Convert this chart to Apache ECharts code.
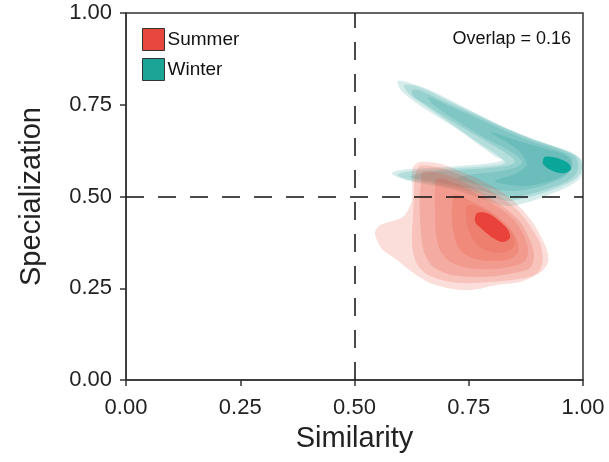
<!DOCTYPE html>
<html>
<head>
<meta charset="utf-8">
<script src="https://cdn.jsdelivr.net/npm/echarts@6/dist/echarts.min.js"></script>
<style>
html,body{margin:0;padding:0;background:#fff;}
#chart{width:609px;height:462px;}
</style>
</head>
<body>
<div id="chart"></div>
<script>
// Axis ticks
var xTicks = [0, 0.25, 0.5, 0.75, 1];
var yTicks = [0, 0.25, 0.5, 0.75, 1];
var refX = 0.5;
var refY = 0.5;
var overlapValue = 0.16;
var groups = ['Summer', 'Winter'];

// Density contour levels (outer -> core), vertices as [similarity, specialization]
var winterL1 = [[0.595,0.815],[0.621,0.809],[0.665,0.790],[0.709,0.763],[0.764,0.728],[0.818,0.694],[0.873,0.665],[0.928,0.640],[0.972,0.619],[0.998,0.599],[1.0,0.567],[0.989,0.545],[0.961,0.523],[0.917,0.501],[0.873,0.482],[0.840,0.474],[0.807,0.482],[0.764,0.501],[0.720,0.518],[0.665,0.531],[0.621,0.542],[0.589,0.556],[0.582,0.564],[0.600,0.572],[0.665,0.578],[0.731,0.583],[0.797,0.591],[0.823,0.599],[0.807,0.610],[0.770,0.643],[0.720,0.687],[0.665,0.730],[0.621,0.768],[0.600,0.792]];
var winterL2 = [[0.608,0.804],[0.643,0.798],[0.709,0.759],[0.770,0.723],[0.825,0.691],[0.880,0.662],[0.934,0.638],[0.982,0.616],[0.996,0.594],[0.996,0.567],[0.976,0.542],[0.932,0.518],[0.884,0.499],[0.842,0.488],[0.807,0.496],[0.764,0.512],[0.720,0.523],[0.665,0.537],[0.611,0.548],[0.593,0.559],[0.611,0.567],[0.665,0.572],[0.731,0.578],[0.797,0.583],[0.829,0.591],[0.818,0.608],[0.770,0.647],[0.713,0.697],[0.661,0.742],[0.621,0.778]];
var winterL3 = [[0.626,0.790],[0.643,0.789],[0.709,0.752],[0.775,0.716],[0.829,0.685],[0.884,0.657],[0.939,0.635],[0.980,0.613],[0.989,0.591],[0.987,0.567],[0.967,0.542],[0.928,0.523],[0.884,0.507],[0.845,0.499],[0.807,0.507],[0.764,0.520],[0.731,0.526],[0.665,0.542],[0.626,0.550],[0.621,0.556],[0.665,0.567],[0.731,0.572],[0.797,0.578],[0.840,0.586],[0.851,0.597],[0.829,0.620],[0.775,0.660],[0.709,0.708],[0.654,0.752],[0.630,0.772]];
var winterL4 = [[0.661,0.771],[0.709,0.746],[0.775,0.710],[0.829,0.679],[0.884,0.651],[0.939,0.629],[0.974,0.608],[0.976,0.583],[0.961,0.556],[0.923,0.534],[0.880,0.520],[0.845,0.515],[0.807,0.520],[0.764,0.534],[0.724,0.550],[0.764,0.561],[0.807,0.567],[0.851,0.578],[0.867,0.594],[0.845,0.620],[0.775,0.667],[0.709,0.718],[0.672,0.750]];
var winterL5 = [[0.797,0.676],[0.873,0.646],[0.923,0.629],[0.965,0.610],[0.976,0.583],[0.961,0.559],[0.923,0.540],[0.880,0.529],[0.840,0.531],[0.807,0.542],[0.851,0.561],[0.877,0.586],[0.862,0.621],[0.829,0.651]];
var winterCore = [[0.917,0.608],[0.943,0.605],[0.967,0.591],[0.974,0.575],[0.961,0.564],[0.939,0.567],[0.921,0.578],[0.912,0.591]];

var summerL1 = [[0.643,0.594],[0.681,0.591],[0.724,0.572],[0.775,0.545],[0.825,0.510],[0.862,0.471],[0.891,0.428],[0.912,0.381],[0.923,0.346],[0.923,0.319],[0.906,0.292],[0.862,0.267],[0.812,0.259],[0.753,0.245],[0.702,0.251],[0.665,0.264],[0.628,0.292],[0.593,0.327],[0.562,0.354],[0.549,0.381],[0.545,0.403],[0.556,0.422],[0.578,0.431],[0.606,0.444],[0.617,0.463],[0.626,0.490],[0.626,0.537],[0.628,0.580]];
var summerL2 = [[0.643,0.583],[0.687,0.578],[0.731,0.559],[0.775,0.531],[0.818,0.499],[0.856,0.463],[0.884,0.420],[0.906,0.373],[0.912,0.332],[0.906,0.300],[0.884,0.281],[0.840,0.272],[0.797,0.267],[0.742,0.264],[0.698,0.270],[0.661,0.286],[0.639,0.311],[0.628,0.349],[0.626,0.395],[0.628,0.450],[0.630,0.504],[0.632,0.550]];
var summerL3 = [[0.650,0.567],[0.698,0.559],[0.742,0.537],[0.786,0.504],[0.829,0.469],[0.862,0.431],[0.884,0.381],[0.893,0.338],[0.884,0.305],[0.851,0.292],[0.807,0.283],[0.753,0.281],[0.705,0.289],[0.670,0.311],[0.652,0.349],[0.646,0.395],[0.643,0.450],[0.643,0.504],[0.646,0.545]];
var summerL4 = [[0.681,0.550],[0.720,0.537],[0.764,0.510],[0.807,0.477],[0.845,0.441],[0.869,0.398],[0.880,0.354],[0.871,0.322],[0.840,0.308],[0.797,0.302],[0.748,0.305],[0.709,0.322],[0.687,0.354],[0.678,0.403],[0.676,0.463],[0.676,0.518]];
var summerL5 = [[0.720,0.504],[0.764,0.482],[0.803,0.455],[0.836,0.420],[0.856,0.381],[0.858,0.349],[0.840,0.330],[0.801,0.324],[0.759,0.332],[0.731,0.354],[0.718,0.395],[0.713,0.450]];
var summerL6 = [[0.748,0.477],[0.786,0.463],[0.818,0.436],[0.845,0.398],[0.849,0.365],[0.832,0.349],[0.797,0.349],[0.768,0.368],[0.751,0.403],[0.744,0.444]];
var summerCore = [[0.768,0.455],[0.790,0.455],[0.814,0.436],[0.836,0.409],[0.840,0.387],[0.825,0.376],[0.803,0.387],[0.781,0.409],[0.764,0.431]];

var winterLevels = [winterL1, winterL2, winterL3, winterL4, winterL5, winterCore];
var summerLevels = [summerL1, summerL2, summerL3, summerL4, summerL5, summerL6, summerCore];

var chart = echarts.init(document.getElementById('chart'), null, {renderer: 'canvas'});

function contourSeries(name, levels, layerColor, coreColor, solidColor) {
  return {
    name: name,
    type: 'custom',
    coordinateSystem: 'cartesian2d',
    clip: true,
    silent: true,
    itemStyle: {color: solidColor},
    data: levels.map(function (_, i) { return [i]; }),
    encode: {x: -1, y: -1},
    renderItem: function (params, api) {
      var idx = params.dataIndex;
      var pts = levels[idx].map(function (p) { return api.coord(p); });
      var isCore = idx === levels.length - 1;
      return {
        type: 'polygon',
        shape: {points: pts, smooth: 0.3},
        style: {fill: isCore ? coreColor : layerColor, stroke: null}
      };
    }
  };
}

var fontFam = '"Liberation Sans", Arial, Helvetica, sans-serif';

var option = {
  animation: false,
  backgroundColor: '#ffffff',
  textStyle: {fontFamily: fontFam},
  grid: {left: 126, right: 26, top: 13, bottom: 82, show: true, borderColor: '#333', borderWidth: 1.5, backgroundColor: 'transparent'},
  legend: {
    orient: 'vertical',
    left: 137, top: 23,
    itemWidth: 22, itemHeight: 22, itemGap: 7,
    icon: 'rect',
    data: groups,
    itemStyle: {borderColor: '#333', borderWidth: 1},
    textStyle: {fontSize: 19, color: '#111', fontFamily: fontFam, padding: [0, 0, 0, -2]}
  },
  xAxis: {
    type: 'value', min: xTicks[0], max: xTicks[xTicks.length - 1], interval: 0.25,
    name: 'Similarity', nameLocation: 'middle', nameGap: 44,
    nameTextStyle: {fontSize: 29, color: '#222', fontFamily: fontFam},
    axisLine: {show: true, lineStyle: {color: '#333', width: 1.5}},
    axisTick: {show: true, inside: false, length: 6, lineStyle: {color: '#333', width: 1.5}},
    axisLabel: {fontSize: 22, color: '#222', margin: 17, formatter: function (v) { return v.toFixed(2); }},
    splitLine: {show: false}
  },
  yAxis: {
    type: 'value', min: yTicks[0], max: yTicks[yTicks.length - 1], interval: 0.25,
    name: 'Specialization', nameLocation: 'middle', nameGap: 80,
    nameTextStyle: {fontSize: 29, color: '#222', fontFamily: fontFam},
    axisLine: {show: true, lineStyle: {color: '#333', width: 1.5}},
    axisTick: {show: true, inside: false, length: 6, lineStyle: {color: '#333', width: 1.5}},
    axisLabel: {fontSize: 22, color: '#222', margin: 14, formatter: function (v) { return v.toFixed(2); }},
    splitLine: {show: false}
  },
  graphic: [{
    type: 'text', right: 38, top: 30, z: 100,
    style: {text: 'Overlap = ' + overlapValue.toFixed(2), fontSize: 18, fill: '#111', fontFamily: fontFam}
  }],
  series: [
    contourSeries('Winter', winterLevels, 'rgba(10,150,140,0.17)', '#0aa699', '#1aa597'),
    contourSeries('Summer', summerLevels, 'rgba(232,72,52,0.18)', '#e8423a', '#e8473d'),
    {
      type: 'line', data: [], silent: true, z: 10,
      markLine: {
        silent: true, symbol: 'none', animation: false,
        label: {show: false},
        lineStyle: {color: '#111', width: 1.5, type: [18, 14]},
        data: [{xAxis: refX}, {yAxis: refY}]
      }
    }
  ]
};
chart.setOption(option);
</script>
</body>
</html>
